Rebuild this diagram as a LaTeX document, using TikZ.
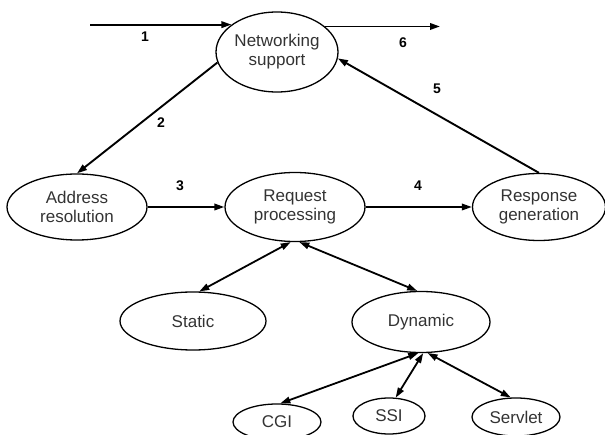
\documentclass[tikz,border=0pt]{standalone}
\usepackage{fontspec}
\setmainfont{Liberation Sans}
\usetikzlibrary{shapes.geometric,arrows.meta}
\begin{document}
\begin{tikzpicture}[x=1pt,y=-1pt,
  every node/.style={font=\fontsize{17}{19}\selectfont, text=black!80},
  proc/.style={ellipse, draw=black, line width=1.3pt, inner sep=0pt, align=center},
  flow/.style={line width=1.9pt, -{Triangle[length=10pt,width=6.5pt]}},
  link/.style={line width=1.8pt, {Triangle[length=10pt,width=6.5pt]}-{Triangle[length=10pt,width=6.5pt]}},
  num/.style={font=\fontsize{14}{16}\selectfont\bfseries, text=black}]
  \clip (0,0) rectangle (605,435);
  \useasboundingbox (0,0) rectangle (605,435);

  % processing stages
  \node[proc, minimum width=122pt, minimum height=80pt] (ns) at (277,52) {Networking\\support};
  \node[proc, minimum width=140pt, minimum height=66pt] (ar) at (77,207) {Address\\resolution};
  \node[proc, minimum width=140pt, minimum height=69pt] (rp) at (295,207) {Request\\processing};
  \node[proc, minimum width=133pt, minimum height=67pt] (rg) at (539,207) {Response\\generation};
  \node[proc, minimum width=146pt, minimum height=58pt] (st) at (193,321) {Static};
  \node[proc, minimum width=138pt, minimum height=61pt] (dy) at (421,322) {Dynamic};
  \node[proc, minimum width=88pt, minimum height=36pt] (cgi) at (277,422) {CGI};
  \node[proc, minimum width=72pt, minimum height=36pt] (ssi) at (389,416) {SSI};
  \node[proc, minimum width=88pt, minimum height=38pt] (srv) at (516,417) {Servlet};

  % free ends of the incoming and outgoing requests
  \coordinate (src) at (90,0);
  \coordinate (snk) at (440,0);

  % main flow
  \draw[flow] (src |- ns.149) -- (ns.149);
  \draw[flow] (ns.190) -- (ar.north);
  \draw[flow] (ar) -- (rp);
  \draw[flow] (rp) -- (rg);
  \draw[flow] (rg.north) -- (ns.-6);
  \draw[flow] (ns.28) -- (ns.28 -| snk);

  % content types
  \draw[link] (rp.263) -- (st.78);
  \draw[link] (rp.277) -- (dy.97);
  \draw[link] (dy.265) -- (cgi.80);
  \draw[link] (dy.274) -- (ssi.70);
  \draw[link] (dy.282) -- (srv.105);

  % step numbers
  \node[num] (n1) at (145,37) {1};
  \node[num] (n2) at (161,123) {2};
  \node[num] (n3) at (180,186) {3};
  \node[num] (n4) at (418,186) {4};
  \node[num] (n5) at (437,89) {5};
  \node[num] (n6) at (403,43) {6};
\end{tikzpicture}
\end{document}
